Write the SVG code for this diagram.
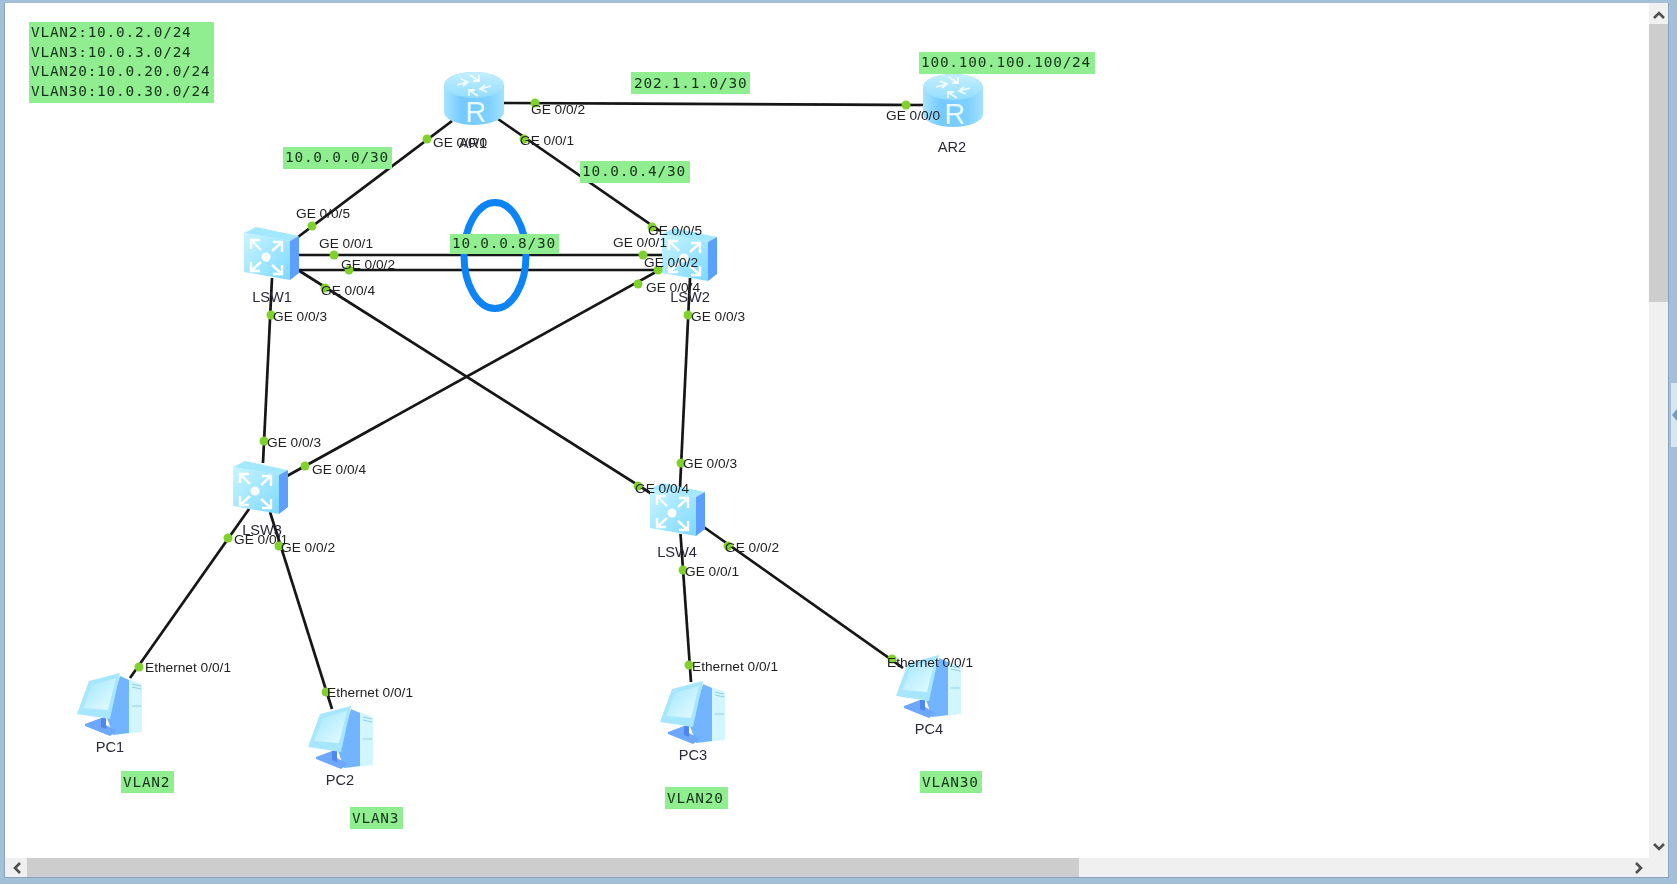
<svg xmlns="http://www.w3.org/2000/svg" width="1677" height="884" viewBox="0 0 1677 884">
<style>
.lk{stroke:#141414;stroke-width:2.7;fill:none}
.dot{fill:#80d12e}
.port{font:13.7px "Liberation Sans",Arial,sans-serif;fill:#222}
.name{font:14.6px "Liberation Sans",Arial,sans-serif;fill:#2a2a3a;text-anchor:middle}
.tag{fill:#90ee90}
.mono{font:14.4px "DejaVu Sans Mono",monospace;letter-spacing:.78px;fill:#16301a}
.chev{fill:none;stroke:#505050;stroke-width:2.6}
.w{fill:none;stroke:#fff;stroke-width:2.4}
</style>
<defs>
<filter id="soft" x="0" y="0" width="100%" height="100%"><feGaussianBlur stdDeviation="0.4"/></filter>
<linearGradient id="rb" x1="0" x2="1" y1="0" y2="0"><stop offset="0" stop-color="#a6e4ff"/><stop offset=".3" stop-color="#74c9ff"/><stop offset=".75" stop-color="#7fd0ff"/><stop offset="1" stop-color="#a2e2ff"/></linearGradient>
<linearGradient id="rt" x1="0" x2="0" y1="0" y2="1"><stop offset="0" stop-color="#c4f0ff"/><stop offset="1" stop-color="#93dcff"/></linearGradient>
<linearGradient id="sf" x1="0" x2="1" y1="0" y2="1"><stop offset="0" stop-color="#c8f5ff"/><stop offset="1" stop-color="#7ed8ff"/></linearGradient>
<linearGradient id="sc" x1="0" x2="1" y1="0" y2="1"><stop offset="0" stop-color="#9fe6ff"/><stop offset="1" stop-color="#e8fcff"/></linearGradient>
<symbol id="router" viewBox="0 0 60 53" width="60" height="53" overflow="visible">
<path d="M0 13A30 13 0 0 1 60 13V40A30 13 0 0 1 0 40Z" fill="url(#rb)"/>
<ellipse cx="30" cy="13" rx="29.500" ry="13" fill="url(#rt)"/>
<path d="M13 13l11-3M17 7l7 3-5 4M47 14l-11 3M43 20l-7-3 5-4M26 3l9 6M35 3v6h-6M34 24l-9-6M25 24v-6h6" fill="none" stroke="#fff" stroke-width="1.8" opacity=".85"/>
<text x="32" y="50" font-family="Liberation Sans,Arial,sans-serif" font-size="29" fill="#e6faff" text-anchor="middle">R</text>
</symbol>
<symbol id="switch" viewBox="0 0 55 53" width="55" height="53" overflow="visible">
<polygon points="0,6 12,0 55,9 46,14" fill="#a4e8ff"/>
<polygon points="46,14 55,9 55,46 46,53" fill="#5c9fff"/>
<polygon points="0,6 46,14 46,53 0,45" fill="url(#sf)"/>
<circle cx="22" cy="30" r="4.500" fill="#fff"/>
<path class="w" d="M7 13l10 10M7 22v-9h9M38 15l-10 9M38 25v-10h-9M7 44l10-9M7 35v9h9M38 47l-10-9M38 38v9h-9"/>
</symbol>
<symbol id="pc" viewBox="0 0 65 63" width="65" height="63" overflow="visible">
<polygon points="51,6 65,11 65,59 38,62" fill="#d2f6ff"/>
<polygon points="43,3 52,7 52,60 36,62 30,45" fill="#72b4ff"/>
<polygon points="8,51 24,45 29,52 40,58 33,63 8,53" fill="#6ea8fa"/>
<polygon points="24,45 29,45 29,56 24,54" fill="#4f86f2"/>
<polygon points="12,8 43,0 33,46 0,41" fill="#a6e6ff"/>
<polygon points="15,12 39,5 31,37 6,35" fill="url(#sc)"/>
<path d="M55 11l9 2M55 14l9 2M55 33h9" stroke="#8fcdf0" stroke-width="1" fill="none"/>
</symbol>
</defs>

<rect width="1677" height="884" fill="#a4bfd8"/>
<rect x="4" y="3" width="1665" height="875" fill="#8aa3bd"/>
<rect x="5" y="3" width="1663" height="874" fill="#fff"/>

<g filter="url(#soft)">
<g id="connectors">
<line class="lk" x1="452" y1="121" x2="298" y2="237"/>
<line class="lk" x1="504" y1="103" x2="924" y2="105"/>
<line class="lk" x1="498" y1="119" x2="660" y2="231"/>
<line class="lk" x1="298" y1="255" x2="664" y2="255"/>
<line class="lk" x1="298" y1="270" x2="664" y2="270"/>
<line class="lk" x1="272" y1="278" x2="263" y2="463"/>
<line class="lk" x1="298" y1="270" x2="652" y2="494"/>
<line class="lk" x1="287" y1="476" x2="663" y2="268"/>
<line class="lk" x1="690" y1="278" x2="680" y2="488"/>
<line class="lk" x1="249" y1="509" x2="130" y2="678"/>
<line class="lk" x1="270" y1="512" x2="332" y2="709"/>
<line class="lk" x1="680.500" y1="534" x2="691" y2="682"/>
<line class="lk" x1="703" y1="526.500" x2="903" y2="668"/>
</g>

<ellipse id="loop" cx="495" cy="255.500" rx="31" ry="53" fill="none" stroke="#0a84f6" stroke-width="7"/>

<g id="AR1"><use href="#router" x="444" y="72"/><text class="name" x="473" y="148">AR1</text></g>
<g id="AR2"><use href="#router" x="923" y="74"/><text class="name" x="952" y="152">AR2</text></g>
<g id="LSW1"><use href="#switch" x="244" y="227"/><text class="name" x="272" y="302">LSW1</text></g>
<g id="LSW2"><use href="#switch" x="662" y="228"/><text class="name" x="690" y="302">LSW2</text></g>
<g id="LSW3"><use href="#switch" x="233" y="461"/><text class="name" x="262" y="535">LSW3</text></g>
<g id="LSW4"><use href="#switch" x="650" y="483"/><text class="name" x="677" y="557">LSW4</text></g>
<g id="PC1"><use href="#pc" x="77" y="673"/><text class="name" x="110" y="752">PC1</text></g>
<g id="PC2"><use href="#pc" x="308" y="706"/><text class="name" x="340" y="785">PC2</text></g>
<g id="PC3"><use href="#pc" x="660" y="681"/><text class="name" x="693" y="760">PC3</text></g>
<g id="PC4"><use href="#pc" x="896" y="655"/><text class="name" x="929" y="734">PC4</text></g>

<g id="ports">
<circle class="dot" cx="427" cy="139" r="4.500"/><text class="port" x="433" y="147">GE 0/0/0</text>
<circle class="dot" cx="535" cy="103" r="4.500"/><text class="port" x="531" y="114">GE 0/0/2</text>
<circle class="dot" cx="524" cy="139" r="4.500"/><text class="port" x="520" y="145">GE 0/0/1</text>
<circle class="dot" cx="906" cy="105" r="4.500"/><text class="port" x="886" y="120">GE 0/0/0</text>
<circle class="dot" cx="312" cy="226" r="4.500"/><text class="port" x="296" y="218">GE 0/0/5</text>
<circle class="dot" cx="334" cy="255" r="4.500"/><text class="port" x="319" y="248">GE 0/0/1</text>
<circle class="dot" cx="349" cy="270" r="4.500"/><text class="port" x="341" y="269">GE 0/0/2</text>
<circle class="dot" cx="325" cy="288" r="4.500"/><text class="port" x="321" y="295">GE 0/0/4</text>
<circle class="dot" cx="271" cy="315" r="4.500"/><text class="port" x="273" y="321">GE 0/0/3</text>
<circle class="dot" cx="652" cy="227" r="4.500"/><text class="port" x="648" y="235">GE 0/0/5</text>
<circle class="dot" cx="643" cy="255" r="4.500"/><text class="port" x="613" y="247">GE 0/0/1</text>
<circle class="dot" cx="658" cy="270" r="4.500"/><text class="port" x="644" y="267">GE 0/0/2</text>
<circle class="dot" cx="638" cy="284" r="4.500"/><text class="port" x="646" y="292">GE 0/0/4</text>
<circle class="dot" cx="688" cy="315" r="4.500"/><text class="port" x="691" y="321">GE 0/0/3</text>
<circle class="dot" cx="264" cy="441" r="4.500"/><text class="port" x="267" y="447">GE 0/0/3</text>
<circle class="dot" cx="305" cy="466" r="4.500"/><text class="port" x="312" y="474">GE 0/0/4</text>
<circle class="dot" cx="228" cy="538" r="4.500"/><text class="port" x="234" y="544">GE 0/0/1</text>
<circle class="dot" cx="279" cy="546" r="4.500"/><text class="port" x="281" y="552">GE 0/0/2</text>
<circle class="dot" cx="681" cy="463" r="4.500"/><text class="port" x="683" y="468">GE 0/0/3</text>
<circle class="dot" cx="638" cy="486" r="4.500"/><text class="port" x="635" y="493">GE 0/0/4</text>
<circle class="dot" cx="728" cy="546" r="4.500"/><text class="port" x="725" y="552">GE 0/0/2</text>
<circle class="dot" cx="683" cy="570" r="4.500"/><text class="port" x="685" y="576">GE 0/0/1</text>
<circle class="dot" cx="139" cy="667" r="4.500"/><text class="port" x="145" y="672">Ethernet 0/0/1</text>
<circle class="dot" cx="326" cy="692" r="4.500"/><text class="port" x="327" y="697">Ethernet 0/0/1</text>
<circle class="dot" cx="689" cy="665" r="4.500"/><text class="port" x="692" y="671">Ethernet 0/0/1</text>
<circle class="dot" cx="892" cy="659" r="4.500"/><text class="port" x="887" y="667">Ethernet 0/0/1</text>
</g>

<g id="legend"><rect class="tag" x="29" y="22" width="185" height="81"/>
<text class="mono" x="31" y="37">VLAN2:10.0.2.0/24</text>
<text class="mono" x="31" y="57">VLAN3:10.0.3.0/24</text>
<text class="mono" x="31" y="76">VLAN20:10.0.20.0/24</text>
<text class="mono" x="31" y="96">VLAN30:10.0.30.0/24</text></g>
<g id="net1"><rect class="tag" x="283" y="147" width="109" height="22"/><text class="mono" x="285" y="162">10.0.0.0/30</text></g>
<g id="net2"><rect class="tag" x="631" y="72" width="119" height="22"/><text class="mono" x="634" y="88">202.1.1.0/30</text></g>
<g id="net3"><rect class="tag" x="580" y="161" width="110" height="22"/><text class="mono" x="582" y="176">10.0.0.4/30</text></g>
<g id="net4"><rect class="tag" x="450" y="234" width="109" height="20"/><text class="mono" x="452" y="248">10.0.0.8/30</text></g>
<g id="net5"><rect class="tag" x="919" y="52" width="176" height="22"/><text class="mono" x="921" y="67">100.100.100.100/24</text></g>
<g id="vlan2"><rect class="tag" x="121" y="771" width="53" height="22"/><text class="mono" x="123" y="787">VLAN2</text></g>
<g id="vlan3"><rect class="tag" x="350" y="807" width="53" height="22"/><text class="mono" x="352" y="823">VLAN3</text></g>
<g id="vlan20"><rect class="tag" x="665" y="787" width="63" height="22"/><text class="mono" x="667" y="803">VLAN20</text></g>
<g id="vlan30"><rect class="tag" x="920" y="771" width="62" height="22"/><text class="mono" x="922" y="787">VLAN30</text></g>
</g>

<g id="scrollbars">
<rect x="1649" y="3" width="19" height="855" fill="#f0f0f0"/>
<rect x="1649" y="24" width="19" height="278" fill="#cdcdcd"/>
<rect x="5" y="858" width="1663" height="19" fill="#f0f0f0"/>
<rect x="27" y="858" width="1052" height="19" fill="#cdcdcd"/>
<path class="chev" d="M1654 18l5-5 5 5M1654 844l5 5 5-5M20 863l-5 5 5 5M1636 863l5 5-5 5"/>
<rect x="1671" y="383" width="6" height="64" fill="#d8e6f0"/>
<path d="M1677 409l-5 6 5 6z" fill="#6f9cc4"/>
</g>
</svg>
